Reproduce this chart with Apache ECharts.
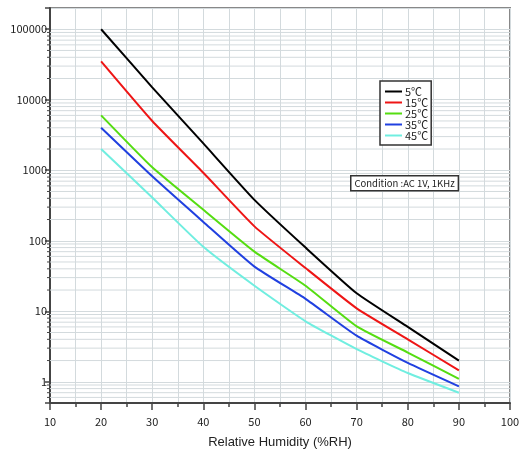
<!DOCTYPE html>
<html>
<head>
<meta charset="utf-8">
<script src="https://cdn.jsdelivr.net/npm/echarts@6/dist/echarts.min.js"></script>
<style>
    html, body { margin: 0; padding: 0; background: #fff; }
    #chart_container { width: 529px; height: 454px; }
</style>
</head>
<body>
<div id="chart_container"></div>
<script>
"use strict";

// relative humidity (%RH)
var humidity = [20, 30, 40, 50, 60, 70, 80, 90];

// impedance (KΩ) per temperature
var t5 = [100000, 15000, 2400, 380, 80, 18, 6, 2];
var t15 = [35000, 5000, 920, 160, 41, 11, 4, 1.45];
var t25 = [6000, 1100, 275, 70, 23, 6.1, 2.6, 1.1];
var t35 = [4000, 820, 185, 43, 15, 4.5, 1.85, 0.86];
var t45 = [2000, 410, 82, 23, 7.2, 2.9, 1.33, 0.7];

var seriesNames = ['5℃', '15℃', '25℃', '35℃', '45℃'];
var seriesColors = ['#000000', '#ee1515', '#55dd11', '#2040e0', '#70eee0'];

// light grid lines between the decades (2..9 of each)
var minorValues = [0.6, 0.7, 0.8, 0.9,
    2, 3, 4, 5, 6, 7, 8, 9,
    20, 30, 40, 50, 60, 70, 80, 90,
    200, 300, 400, 500, 600, 700, 800, 900,
    2000, 3000, 4000, 5000, 6000, 7000, 8000, 9000,
    20000, 30000, 40000, 50000, 60000, 70000, 80000, 90000];

var xTicks = {min: 10, max: 100, interval: 10};
var yRange = {min: 0.5, max: 200000};

function pairs(ys) {
    var out = [];
    for (var i = 0; i < humidity.length; i++) {
        out.push([humidity[i], ys[i]]);
    }
    return out;
}

function drawChart() {
    var myChart = echarts.init(document.getElementById('chart_container'));
    var labelFont = 'Noto Sans CJK JP';
    var values = [t5, t15, t25, t35, t45];

    var series = [{
        // minor grid lines and the small ticks on the y axis
        type: 'custom',
        name: 'minor',
        silent: true,
        z: 1,
        data: minorValues.map(function (v) { return [xTicks.min, v]; }),
        renderItem: function (params, api) {
            var a = api.coord([xTicks.min, api.value(1)]);
            var b = api.coord([xTicks.max, api.value(1)]);
            return {
                type: 'group',
                children: [{
                    type: 'line',
                    shape: {x1: a[0], y1: a[1], x2: b[0], y2: b[1]},
                    style: {stroke: '#d3dadd', lineWidth: 1}
                }, {
                    type: 'line',
                    shape: {x1: a[0] - 3, y1: a[1], x2: a[0], y2: a[1]},
                    style: {stroke: '#444', lineWidth: 1}
                }]
            };
        }
    }];

    for (var i = 0; i < values.length; i++) {
        series.push({
            name: seriesNames[i],
            type: 'line',
            data: pairs(values[i]),
            smooth: 0.15,
            showSymbol: false,
            z: 5,
            lineStyle: {color: seriesColors[i], width: 2},
            itemStyle: {color: seriesColors[i]}
        });
    }

    var option = {
        animation: false,
        backgroundColor: '#fff',
        grid: {
            left: 50, right: 19, top: 8, bottom: 51,
            outerBoundsMode: 'none',
            containLabel: false,
            show: true,
            borderColor: '#888',
            borderWidth: 2
        },
        legend: {
            data: seriesNames,
            orient: 'vertical',
            left: 380,
            top: 81,
            padding: [5, 3, 4, 5],
            itemGap: 0,
            itemWidth: 17,
            itemHeight: 2,
            icon: 'rect',
            borderColor: '#333',
            borderWidth: 1.5,
            backgroundColor: '#fff',
            textStyle: {fontFamily: labelFont, fontSize: 11, color: '#222', lineHeight: 10.7, padding: [0, 0, 0, -2]}
        },
        xAxis: {
            type: 'value',
            min: xTicks.min,
            max: xTicks.max,
            interval: xTicks.interval,
            name: 'Relative Humidity (%RH)',
            nameLocation: 'middle',
            nameGap: 33,
            nameTextStyle: {fontFamily: 'Liberation Sans', fontSize: 13, color: '#222'},
            axisLine: {lineStyle: {color: '#444', width: 2}},
            axisTick: {show: true, length: 7, lineStyle: {color: '#444', width: 1.5}},
            minorTick: {show: true, splitNumber: 2, length: 4, lineStyle: {color: '#444', width: 1.5}},
            splitLine: {show: true, lineStyle: {color: '#d3dadd', width: 1}},
            minorSplitLine: {show: true, lineStyle: {color: '#d3dadd', width: 1}},
            axisLabel: {fontFamily: labelFont, fontSize: 11, color: '#222', margin: 13}
        },
        yAxis: {
            type: 'log',
            logBase: 10,
            min: yRange.min,
            max: yRange.max,
            name: 'Impedance (KΩ)',
            nameLocation: 'middle',
            nameGap: 36,
            nameTextStyle: {fontFamily: 'Liberation Sans', fontSize: 13, color: '#222'},
            axisLine: {show: true, lineStyle: {color: '#444', width: 2}},
            axisTick: {show: true, length: 5, lineStyle: {color: '#444', width: 1.5}},
            splitLine: {show: true, lineStyle: {color: '#d3dadd', width: 1}},
            axisLabel: {
                fontFamily: labelFont, fontSize: 11, color: '#222', margin: 3,
                formatter: function (v) {
                    var e = Math.log(v) / Math.LN10;
                    if (Math.abs(e - Math.round(e)) > 1e-6 || e < 0) {
                        return '';
                    }
                    return String(Math.round(Math.pow(10, Math.round(e))));
                }
            }
        },
        graphic: [{
            type: 'text',
            left: 350,
            top: 175,
            z: 10,
            style: {
                text: 'Condition :AC 1V, 1KHz',
                fontFamily: labelFont,
                fontSize: 9.5,
                fill: '#222',
                backgroundColor: '#fff',
                borderColor: '#333',
                borderWidth: 1.5,
                padding: [2, 3, 2, 3]
            }
        }],
        series: series
    };

    myChart.setOption(option);
}

drawChart();
</script>
</body>
</html>
